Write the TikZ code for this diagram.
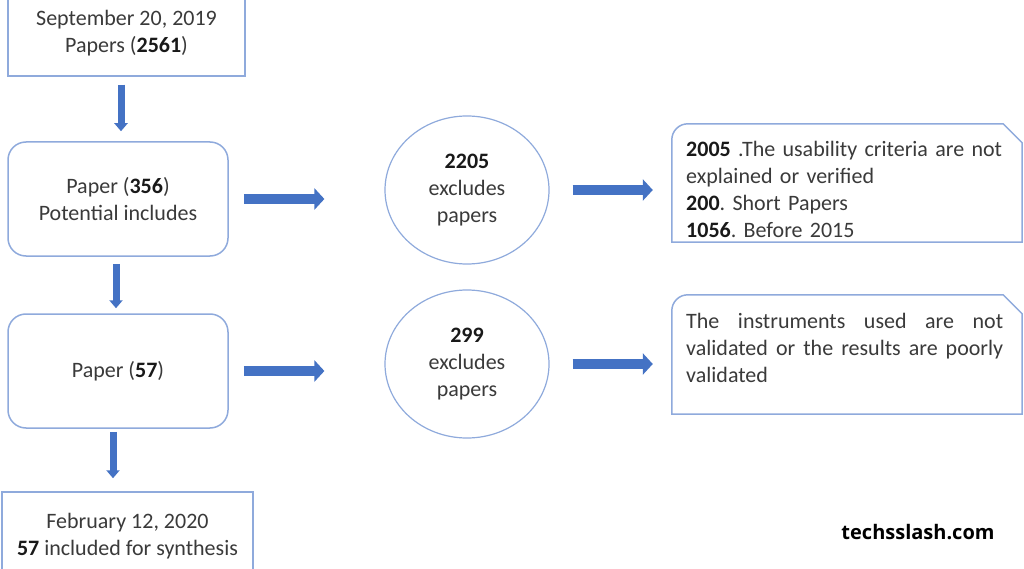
\documentclass[tikz,border=0pt]{standalone}
\usepackage{fontspec}
\setmainfont{Carlito}
\newfontfamily\wmfont{Open Sans}
\usetikzlibrary{arrows.meta,shapes.geometric}
\definecolor{edgeblue}{RGB}{143,170,220}
\definecolor{arrowblue}{RGB}{68,114,196}
\definecolor{txtgray}{RGB}{58,58,58}
\newcommand\bnum[1]{\textbf{\color{black!90}#1}}
\frenchspacing
\begin{document}
\begin{tikzpicture}[x=1pt,y=-1pt,
  every node/.style={font=\fontsize{22}{27}\selectfont, text=txtgray},
  sqbox/.style={draw=edgeblue, line width=1.5pt, rectangle, inner sep=0pt, align=center},
  rbox/.style={sqbox, rounded corners=18pt},
  oval/.style={draw=edgeblue, line width=1.2pt, ellipse, inner sep=0pt, align=center,
    minimum width=164pt, minimum height=148pt},
  holder/.style={rectangle, inner sep=0pt, minimum width=350pt},
  callout/.style={draw=edgeblue, line width=1.5pt},
  harrow/.style={draw=arrowblue, line width=10pt, -{Triangle[width=21pt,length=10pt]}},
  varrow/.style={draw=arrowblue, line width=7pt, -{Triangle[width=13pt,length=8pt]}}]
\useasboundingbox[fill=white] (0,0) rectangle (1024,569);

% left column
\node[sqbox, minimum width=237pt, minimum height=85pt] (b1) at (126.5,33.5)
  {September 20, 2019\\Papers (\bnum{2561})};
\node[rbox, minimum width=220pt, minimum height=114pt] (b2) at (118,199)
  {Paper (\bnum{356})\\Potential includes};
\node[rbox, minimum width=220pt, minimum height=114pt] (b3) at (118,371)
  {Paper (\bnum{57})};
\node[sqbox, minimum width=251pt, minimum height=88pt] (b4) at (127.5,536)
  {February 12, 2020\\\bnum{57} included for synthesis};

% circles
\node[oval] (c1) at (467,190) {\bnum{2205}\\excludes\\papers};
\node[oval] (c2) at (467,364) {\bnum{299}\\excludes\\papers};

% callouts
\node[holder, minimum height=118pt] (k1) at (847,183) {};
\node[holder, minimum height=119pt] (k2) at (847,354.5) {};
\draw[callout] (k1.south west) [rounded corners=16pt] -- (k1.north west) [sharp corners]
  -- ([xshift=-19pt]k1.north east) -- ([yshift=-19pt]k1.north east) -- (k1.south east) -- cycle;
\draw[callout] (k2.south west) [rounded corners=16pt] -- (k2.north west) [sharp corners]
  -- ([xshift=-19pt]k2.north east) -- ([yshift=-19pt]k2.north east) -- (k2.south east) -- cycle;
\node[anchor=west, text width=317pt, align=left, inner sep=0pt] (t1) at (686,189.5)
  {\bnum{2005} .The usability criteria are not\\explained or verified\\\bnum{200}. Short Papers\\\bnum{1056}. Before 2015};
\node[anchor=west, text width=317pt, align=justify, inner sep=0pt] (t2) at (686,347.5)
  {The instruments used are not\linebreak validated or the results are poorly\linebreak validated};

% vertical arrows
\draw[varrow, shorten <=8pt, shorten >=10pt] ([xshift=-5.5pt]b1.south) -- ([xshift=3pt]b2.north);
\draw[varrow, shorten <=7pt, shorten >=5pt] ([xshift=-2pt]b2.south) -- ([xshift=-2pt]b3.north);
\draw[varrow, shorten <=3pt, shorten >=13pt] ([xshift=-5pt]b3.south) -- ([xshift=-14.5pt]b4.north);

% horizontal arrows
\draw[harrow, shorten <=15pt, shorten >=60pt] (b2.east) -- (b2.east -| c1.west);
\draw[harrow, shorten <=15pt, shorten >=60pt] (b3.east) -- (b3.east -| c2.west);
\draw[harrow, shorten <=23pt, shorten >=19pt] (c1.east) -- (c1.east -| k1.west);
\draw[harrow, shorten <=23pt, shorten >=19pt] (c2.east) -- (c2.east -| k2.west);

% watermark
\node[font=\wmfont\bfseries\fontsize{20}{24}\selectfont, text=black] (wm) at (918,532) {techsslash.com};
\end{tikzpicture}
\end{document}
